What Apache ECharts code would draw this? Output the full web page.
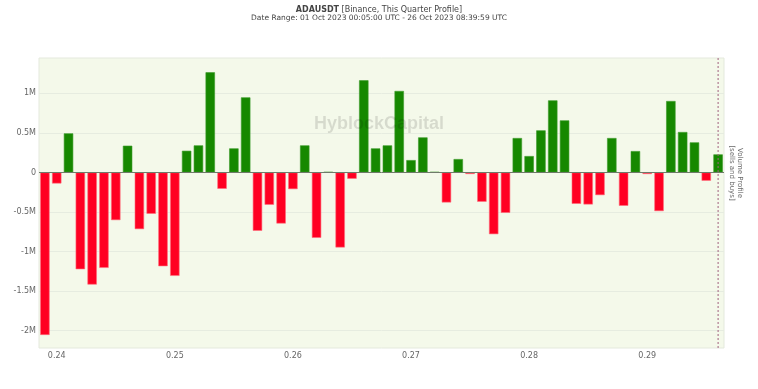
<!DOCTYPE html>
<html>
<head>
<meta charset="utf-8">
<script src="https://cdn.jsdelivr.net/npm/echarts@6/dist/echarts.min.js"></script>
<style>
html,body{margin:0;padding:0;background:#fff;}
#chart{width:758px;height:389px;}
</style>
</head>
<body>
<div id="chart"></div>
<script>
// Price levels (x) and net volume (sells negative, buys positive)
const priceLevels = [
  0.239, 0.240, 0.241, 0.242, 0.243, 0.244, 0.245, 0.246, 0.247, 0.248,
  0.249, 0.250, 0.251, 0.252, 0.253, 0.254, 0.255, 0.256, 0.257, 0.258,
  0.259, 0.260, 0.261, 0.262, 0.263, 0.264, 0.265, 0.266, 0.267, 0.268,
  0.269, 0.270, 0.271, 0.272, 0.273, 0.274, 0.275, 0.276, 0.277, 0.278,
  0.279, 0.280, 0.281, 0.282, 0.283, 0.284, 0.285, 0.286, 0.287, 0.288,
  0.289, 0.290, 0.291, 0.292, 0.293, 0.294, 0.295, 0.296
];
const volumes = [
  -2055000, -140000, 494000, -1224000, -1418000, -1207000, -603000, 338000, -717000, -523000,
  -1186000, -1308000, 274000, 342000, 1266000, -207000, 304000, 949000, -738000, -409000,
  -646000, -211000, 342000, -827000, 5000, -949000, -80000, 1165000, 304000, 342000,
  1030000, 156000, 443000, 5000, -380000, 169000, -20000, -371000, -781000, -511000,
  435000, 207000, 532000, 911000, 658000, -397000, -405000, -287000, 435000, -422000,
  270000, -20000, -489000, 903000, 511000, 380000, -105000, 228000
];
const xTickValues = [0.24, 0.25, 0.26, 0.27, 0.28, 0.29];
const yTickValues = [-2000000, -1500000, -1000000, -500000, 0, 500000, 1000000];
const currentPrice = 0.296;
const yMin = -2220000;
const yMax = 1447000;

const RED = '#ff0022';
const GREEN = '#168800';
const FONT = 'DejaVu Sans';

const barData = priceLevels.map((p, i) => ({
  value: [p, volumes[i]],
  itemStyle: {
    color: volumes[i] < 0 ? RED : GREEN,
    borderColor: volumes[i] < 0 ? '#ff6b7c' : '#3c9a2a',
    borderWidth: 0.6
  }
}));

const chart = echarts.init(document.getElementById('chart'), null, {renderer: 'canvas'});
chart.setOption({
  animation: false,
  backgroundColor: '#ffffff',
  title: {
    left: 'center',
    top: 0,
    text: '{b|ADAUSDT} [Binance, This Quarter Profile]',
    subtext: 'Date Range: 01 Oct 2023 00:05:00 UTC - 26 Oct 2023 08:39:59 UTC',
    itemGap: 0,
    textStyle: {
      fontFamily: FONT, fontSize: 8, fontWeight: 'normal', color: '#444', lineHeight: 9,
      rich: { b: { fontFamily: FONT, fontSize: 8, fontWeight: 'bold', color: '#444' } }
    },
    subtextStyle: { fontFamily: FONT, fontSize: 7.5, color: '#444', lineHeight: 9 }
  },
  grid: {
    left: 39, right: 34, top: 58, bottom: 41,
    show: true, backgroundColor: '#f4f9ea', borderColor: '#e4e9dd', borderWidth: 1
  },
  graphic: [
    {
      type: 'text', left: 'center', top: 115, z: 100, silent: true,
      style: { text: 'HyblockCapital', fontFamily: 'Liberation Sans', fontWeight: 'bold', fontSize: 18, fill: 'rgba(0,0,0,0.12)' },
      x: 3
    },
    {
      type: 'text', x: 736, y: 173, rotation: -Math.PI / 2, silent: true,
      style: { text: 'Volume Profile\n[sells and buys]', fontFamily: FONT, fontSize: 7, fill: '#666', align: 'center', verticalAlign: 'middle', lineHeight: 8 }
    }
  ],
  xAxis: {
    type: 'value',
    min: 0.2385,
    max: 0.2965,
    axisLine: { show: false },
    axisTick: { show: false, customValues: xTickValues },
    splitLine: { show: false },
    axisLabel: {
      customValues: xTickValues,
      fontFamily: FONT, fontSize: 8, color: '#666', margin: 4,
      formatter: v => v.toFixed(2)
    }
  },
  yAxis: {
    type: 'value',
    min: yMin,
    max: yMax,
    axisLine: { show: false },
    axisTick: { show: false, customValues: yTickValues },
    splitLine: { show: true, lineStyle: { color: '#e6ece0', width: 1 } },
    axisLabel: {
      customValues: yTickValues,
      fontFamily: FONT, fontSize: 8, color: '#666', margin: 3,
      formatter: v => v === 0 ? '0' : (v / 1e6) + 'M'
    }
  },
  series: [
    {
      type: 'bar',
      data: barData,
      barWidth: 9.4,
      markLine: {
        silent: true,
        symbol: 'none',
        label: { show: false },
        animation: false,
        data: [
          { yAxis: 0, lineStyle: { color: '#6f7a6a', type: 'solid', width: 1 } }
        ]
      }
    },
    {
      type: 'line',
      z: 10,
      silent: true,
      symbol: 'none',
      data: [[currentPrice, yMin], [currentPrice, yMax]],
      lineStyle: { color: '#a0607e', type: [2, 2], width: 1 }
    }
  ]
});
</script>
</body>
</html>
